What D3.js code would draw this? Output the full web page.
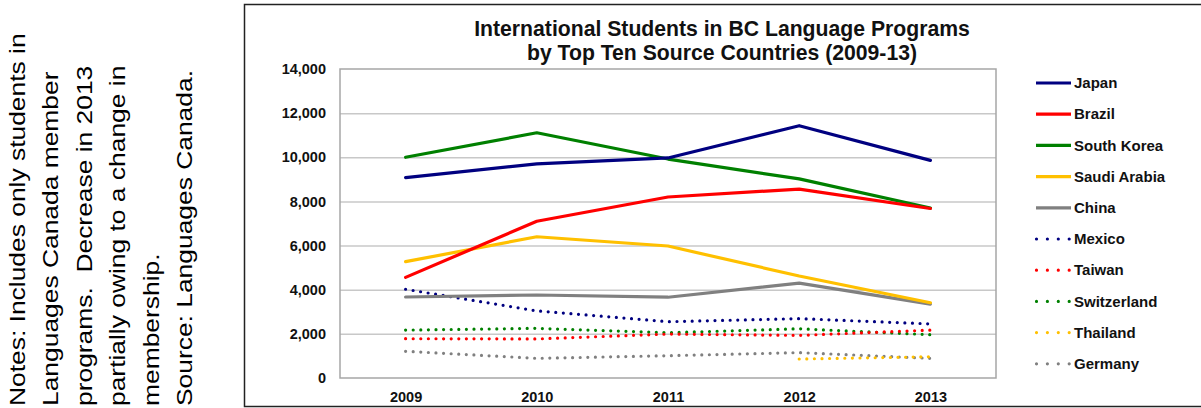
<!DOCTYPE html>
<html>
<head>
<meta charset="utf-8">
<script src="https://cdn.jsdelivr.net/npm/d3@7"></script>
<style>
  body { margin: 0; background: #fff; }
  svg { font-family: "Liberation Sans", Arial, sans-serif; display: block; }
</style>
</head>
<body>
<div id="chart"></div>
<script>
const years = ['2009', '2010', '2011', '2012', '2013'];
const countries = ['Japan', 'Brazil', 'South Korea', 'Saudi Arabia', 'China',
    'Mexico', 'Taiwan', 'Switzerland', 'Thailand', 'Germany'];
const colors = ['#000080', '#ff0000', '#008000', '#ffc000', '#808080',
    '#000080', '#ff0000', '#008000', '#ffc000', '#808080'];
const dotted = [false, false, false, false, false, true, true, true, true, true];

// students per year
const japan = [9080, 9700, 9970, 11430, 9860];
const brazil = [4560, 7100, 8200, 8560, 7680];
const southKorea = [10000, 11110, 9920, 9020, 7700];
const saudiArabia = [5270, 6400, 5980, 4620, 3410];
const china = [3670, 3760, 3660, 4300, 3350];
const mexico = [4020, 3040, 2550, 2690, 2450];
const taiwan = [1780, 1770, 1990, 1930, 2170];
const switzerland = [2170, 2250, 2050, 2230, 1960];
const thailand = [null, null, null, 860, 960];
const germany = [1210, 890, 1010, 1150, 890];
const seriesValues = [japan, brazil, southKorea, saudiArabia, china,
    mexico, taiwan, switzerland, thailand, germany];

const yTicks = [0, 2000, 4000, 6000, 8000, 10000, 12000, 14000];

const notes = [
    'Notes: Includes only students in',
    'Languages Canada member',
    'programs.  Decrease in 2013',
    'partially owing to a change in',
    'membership.',
    'Source: Languages Canada.'
];

const width = 1201, height = 408;
const plot = {left: 340, right: 996, top: 69, bottom: 378};

const svg = d3.select('#chart').append('svg')
    .attr('width', width)
    .attr('height', height);

// notes on the left, rotated
const notesG = svg.append('g').attr('class', 'notes');
notesG.selectAll('text')
    .data(notes)
    .join('text')
    .attr('transform', (d, i) => `translate(${25 + i * 33.4},406) rotate(-90) scale(1,0.86)`)
    .attr('font-size', 26.4)
    .attr('fill', '#000')
    .style('white-space', 'pre')
    .text(d => d);

// chart frame
svg.append('rect')
    .attr('x', 244.5).attr('y', 4.5)
    .attr('width', 970).attr('height', 402)
    .attr('fill', 'none')
    .attr('stroke', '#222')
    .attr('stroke-width', 1.5);

const x = d3.scalePoint()
    .domain(years)
    .range([plot.left, plot.right])
    .padding(0.5);
const y = d3.scaleLinear()
    .domain([0, 14000])
    .range([plot.bottom, plot.top]);

// gridlines
svg.append('g')
    .attr('class', 'grid')
    .attr('transform', `translate(${plot.left},0)`)
    .call(d3.axisLeft(y).tickValues(yTicks.slice(1, -1)).tickSize(-(plot.right - plot.left)).tickFormat(''))
    .call(g => g.select('.domain').remove())
    .call(g => g.selectAll('line').attr('stroke', '#c8c8c8').attr('stroke-width', 1.5));

// plot border
svg.append('rect')
    .attr('x', plot.left).attr('y', plot.top)
    .attr('width', plot.right - plot.left).attr('height', plot.bottom - plot.top)
    .attr('fill', 'none')
    .attr('stroke', '#a6a6a6')
    .attr('stroke-width', 1.5);

// y axis labels
svg.append('g')
    .attr('class', 'y axis')
    .attr('transform', `translate(${plot.left},0)`)
    .call(d3.axisLeft(y).tickValues(yTicks).tickSize(0).tickPadding(14).tickFormat(d3.format(',')))
    .call(g => g.select('.domain').remove())
    .call(g => g.selectAll('text')
        .attr('font-family', null)
        .attr('font-size', 14.5)
        .attr('font-weight', 'bold')
        .attr('fill', '#111'));

// x axis labels
svg.append('g')
    .attr('class', 'x axis')
    .attr('transform', `translate(0,${plot.bottom})`)
    .call(d3.axisBottom(x).tickSize(0).tickPadding(14))
    .call(g => g.select('.domain').remove())
    .call(g => g.selectAll('text')
        .attr('font-family', null)
        .attr('font-size', 14.5)
        .attr('font-weight', 'bold')
        .attr('fill', '#111'));

// title
svg.append('text')
    .attr('x', 722).attr('y', 36)
    .attr('text-anchor', 'middle')
    .attr('font-size', 21.2)
    .attr('font-weight', 'bold')
    .attr('fill', '#111')
    .selectAll('tspan')
    .data(['International Students in BC Language Programs', 'by Top Ten Source Countries (2009-13)'])
    .join('tspan')
    .attr('x', 722)
    .attr('dy', (d, i) => i ? 24 : 0)
    .text(d => d);

// lines
const line = d3.line()
    .defined(d => d.v != null)
    .x(d => x(d.year))
    .y(d => y(d.v));

const series = countries.map((c, i) => ({
    name: c,
    color: colors[i],
    dotted: dotted[i],
    values: years.map((yr, j) => ({year: yr, v: seriesValues[i][j]}))
}));

const dataRegion = svg.append('g').attr('id', 'data');
// dotted first, solid on top
dataRegion.selectAll('path')
    .data(series.slice().reverse())
    .join('path')
    .attr('d', d => line(d.values))
    .attr('fill', 'none')
    .attr('stroke', d => d.color)
    .attr('stroke-width', 3.2)
    .attr('stroke-linecap', 'round')
    .attr('stroke-linejoin', 'round')
    .attr('stroke-dasharray', d => d.dotted ? '0 7.6' : null);

// legend
const legend = svg.append('g')
    .attr('class', 'legend')
    .attr('transform', 'translate(1036,83)');
const rows = legend.selectAll('g')
    .data(series)
    .join('g')
    .attr('transform', (d, i) => `translate(0,${i * 31.2})`);
rows.append('line')
    .attr('x1', d => d.dotted ? 0.5 : 0)
    .attr('x2', 35)
    .attr('stroke', d => d.color)
    .attr('stroke-width', 3.2)
    .attr('stroke-linecap', d => d.dotted ? 'round' : 'butt')
    .attr('stroke-dasharray', d => d.dotted ? '0 10.9' : null);
rows.append('text')
    .attr('x', 38)
    .attr('dy', '0.35em')
    .attr('font-size', 15)
    .attr('font-weight', 'bold')
    .attr('fill', '#111')
    .text(d => d.name);
</script>
</body>
</html>
